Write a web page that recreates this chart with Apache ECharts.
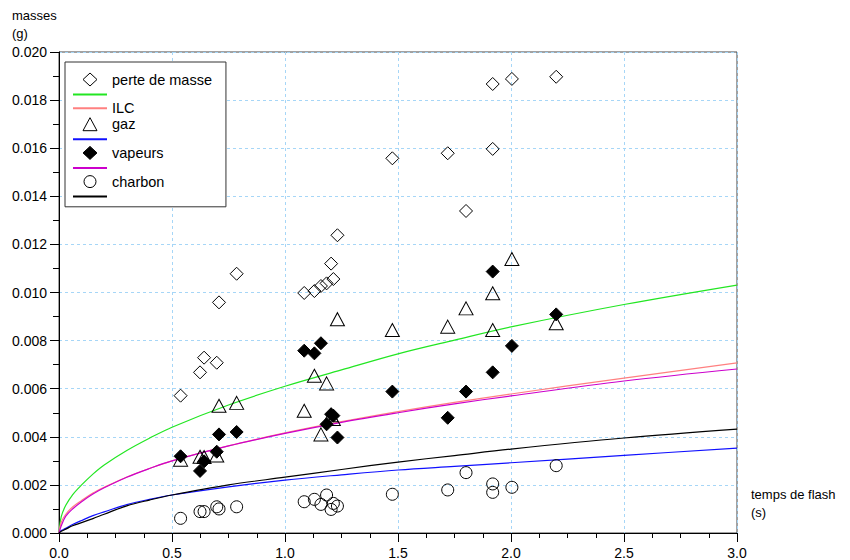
<!DOCTYPE html>
<html>
<head>
<meta charset="utf-8">
<script src="https://cdn.jsdelivr.net/npm/echarts@6/dist/echarts.min.js"></script>
<style>
html,body{margin:0;padding:0;background:#fff;}
#chart{width:850px;height:560px;}
</style>
</head>
<body>
<div id="chart"></div>
<script>
// ---- measured data (temps de flash in s, masses in g) ----
const flashTimes = [0.538, 0.624, 0.642, 0.698, 0.708, 0.786, 1.085, 1.130, 1.159, 1.184,
                    1.204, 1.214, 1.232, 1.475, 1.720, 1.801, 1.919, 1.919, 2.004, 2.200];
const perteDeMasse = [0.00571, 0.00668, 0.00729, 0.00708, 0.00959, 0.01078, 0.00998, 0.01006, 0.01027, 0.01038,
                      0.01120, 0.01056, 0.01238, 0.01558, 0.01579, 0.01339, 0.01597, 0.01867, 0.01888, 0.01897];
const gaz = [0.00305, 0.00317, 0.00316, 0.00322, 0.00529, 0.00541, 0.00508, 0.00654, 0.00410, 0.00622,
             0.00490, 0.00474, 0.00889, 0.00844, 0.00858, 0.00934, 0.00997, 0.00844, 0.01139, 0.00872];
const vapeurs = [0.00319, 0.00258, 0.00298, 0.00338, 0.00410, 0.00420, 0.00758, 0.00747, 0.00789, 0.00452,
                 0.00494, 0.00488, 0.00397, 0.00588, 0.00479, 0.00588, 0.00668, 0.01087, 0.00778, 0.00909];
const charbon = [0.00061, 0.00089, 0.00089, 0.00109, 0.00100, 0.00109, 0.00130, 0.00140, 0.00119, 0.00158,
                 0.00098, 0.00123, 0.00112, 0.00161, 0.00179, 0.00251, 0.00204, 0.00169, 0.00190, 0.00280];

// ---- curves ----
const curveTimes = [0, 0.01, 0.03, 0.06, 0.1, 0.15, 0.2, 0.3, 0.4, 0.5, 0.75, 1.0, 1.25, 1.5, 1.75, 2.0, 2.5, 3.0];
const curvePerte = [0, 0.00068, 0.00115, 0.00159, 0.00200, 0.00245, 0.00283, 0.00343, 0.00394, 0.00440, 0.00532, 0.00610, 0.00678, 0.00745, 0.00802, 0.00857, 0.00950, 0.01031];
const curveILC = [0, 0.00045, 0.00078, 0.00108, 0.00135, 0.00166, 0.00190, 0.00233, 0.00268, 0.00300, 0.00362, 0.00416, 0.00463, 0.00505, 0.00543, 0.00578, 0.00644, 0.00707];
const curveGaz = [0, 0.00010, 0.00020, 0.00035, 0.00052, 0.00072, 0.00088, 0.00118, 0.00140, 0.00158, 0.00192, 0.00220, 0.00242, 0.00262, 0.00277, 0.00292, 0.00323, 0.00353];
const curveVapeurs = [0, 0.00030, 0.00070, 0.00100, 0.00130, 0.00162, 0.00188, 0.00232, 0.00268, 0.00300, 0.00362, 0.00414, 0.00460, 0.00500, 0.00537, 0.00570, 0.00632, 0.00682];
const curveCharbon = [0, 0.00007, 0.00016, 0.00030, 0.00043, 0.00060, 0.00078, 0.00113, 0.00137, 0.00158, 0.00200, 0.00232, 0.00264, 0.00295, 0.00322, 0.00349, 0.00395, 0.00432];

// legend labels (fit curves other than ILC have no label)
const legendLabels = {
  'perte de masse': 'perte de masse',
  'ajustement perte de masse': '',
  'ILC': 'ILC',
  'gaz': 'gaz',
  'ajustement gaz': '',
  'vapeurs': 'vapeurs',
  'ajustement vapeurs': '',
  'charbon': 'charbon',
  'ajustement charbon': ''
};
const legendOrder = ['perte de masse', 'ajustement perte de masse', 'ILC', 'gaz', 'ajustement gaz',
                     'vapeurs', 'ajustement vapeurs', 'charbon', 'ajustement charbon'];
const lineNames = ['ajustement perte de masse', 'ILC', 'ajustement gaz', 'ajustement vapeurs', 'ajustement charbon'];

// legend icons drawn in a 34x13 box (the leading moves fix the icon box)
const legendIcons = {
  'perte de masse': 'path://M0,0 M34,13 M17,0 L24,6.5 L17,13 L10,6.5 Z',
  'vapeurs': 'path://M0,0 M34,13 M17,0 L24,6.5 L17,13 L10,6.5 Z',
  'gaz': 'path://M0,0 M34,13 M17,0 L24,13 L10,13 Z',
  'charbon': 'path://M0,0 M34,13 M23,6.5 A6,6 0 1 1 11,6.5 A6,6 0 1 1 23,6.5 Z'
};

const pairs = (xs, ys) => xs.map((x, i) => [x, ys[i]]);

const openStyle = {color: 'rgba(255,255,255,0)', borderColor: '#000', borderWidth: 1, opacity: 1};
const filledStyle = {color: '#000', borderColor: '#000', borderWidth: 1, opacity: 1};
const lineSeries = (name, ys, color) => ({
  name, type: 'line', data: pairs(curveTimes, ys),
  symbol: 'none', showSymbol: false, smooth: 0.35,
  lineStyle: {color, width: 1.2}, itemStyle: {color: 'rgba(0,0,0,0)', borderWidth: 0, opacity: 0},
  z: 2, silent: true
});
const scatterSeries = (name, ys, symbol, size, style) => ({
  name, type: 'scatter', data: pairs(flashTimes, ys),
  symbol, symbolSize: size, symbolKeepAspect: true, itemStyle: style, z: 3, silent: true
});

const FONT = 'Liberation Sans, Arial, Helvetica, sans-serif';

const option = {
  animation: false,
  backgroundColor: '#fff',
  textStyle: {fontFamily: FONT},
  grid: {left: 59, right: 113, top: 52, bottom: 27, containLabel: false, outerBoundsMode: 'none',
         show: true, borderColor: '#444', borderWidth: 1, backgroundColor: 'transparent'},
  legend: {
    orient: 'vertical', left: 65, top: 62,
    padding: [10, 14, 5, 7],
    itemWidth: 34, itemHeight: 13, itemGap: 1,
    backgroundColor: '#fff', borderColor: '#333', borderWidth: 1, borderRadius: 0,
    textStyle: {fontFamily: FONT, fontSize: 14.5, color: '#000'},
    formatter: name => legendLabels[name],
    selectedMode: false,
    data: legendOrder.map(n => lineNames.includes(n)
      ? {name: n, itemStyle: {opacity: 0, color: 'rgba(0,0,0,0)', borderWidth: 0}}
      : {name: n, icon: legendIcons[n], itemStyle: {borderWidth: 1, borderColor: '#000'}})
  },
  xAxis: {
    type: 'value', min: 0, max: 3, interval: 0.5,
    name: 'temps de flash\n(s)', nameLocation: 'end', nameGap: 14,
    nameTextStyle: {fontFamily: FONT, fontSize: 13, color: '#000', align: 'left',
                    verticalAlign: 'bottom', lineHeight: 18, padding: [0, 0, 12, 0]},
    axisLine: {show: true, onZero: false, lineStyle: {color: '#000', width: 1}},
    axisTick: {show: true, inside: false, length: 9, lineStyle: {color: '#000'}},
    minorTick: {show: true, splitNumber: 4, length: 5, lineStyle: {color: '#000'}},
    axisLabel: {fontFamily: FONT, fontSize: 14, color: '#000', margin: 13,
                formatter: v => v.toFixed(1)},
    splitLine: {show: true, lineStyle: {color: '#a6d6f7', width: 1, type: [3, 3]}}
  },
  yAxis: {
    type: 'value', min: 0, max: 0.02, interval: 0.002,
    name: 'masses\n(g)', nameLocation: 'end', nameGap: 10,
    nameTextStyle: {fontFamily: FONT, fontSize: 13, color: '#000', align: 'left',
                    verticalAlign: 'bottom', lineHeight: 18, padding: [0, 0, 0, -47]},
    axisLine: {show: true, onZero: false, lineStyle: {color: '#000', width: 1}},
    axisTick: {show: true, inside: false, length: 9, lineStyle: {color: '#000'}},
    minorTick: {show: true, splitNumber: 2, length: 6, lineStyle: {color: '#000'}},
    axisLabel: {fontFamily: FONT, fontSize: 14, color: '#000', margin: 12,
                formatter: v => v.toFixed(3)},
    splitLine: {show: true, lineStyle: {color: '#a6d6f7', width: 1, type: [3, 3]}}
  },
  series: [
    lineSeries('ajustement perte de masse', curvePerte, '#22e622'),
    lineSeries('ILC', curveILC, '#ff8080'),
    lineSeries('ajustement gaz', curveGaz, '#1010ff'),
    lineSeries('ajustement vapeurs', curveVapeurs, '#cc00cc'),
    lineSeries('ajustement charbon', curveCharbon, '#000000'),
    scatterSeries('perte de masse', perteDeMasse, 'diamond', 13, openStyle),
    scatterSeries('gaz', gaz, 'triangle', [14, 13], openStyle),
    scatterSeries('vapeurs', vapeurs, 'diamond', 13, filledStyle),
    scatterSeries('charbon', charbon, 'circle', 12, openStyle)
  ]
};

const chart = echarts.init(document.getElementById('chart'), null, {renderer: 'svg', width: 850, height: 560});
chart.setOption(option);
</script>
</body>
</html>
